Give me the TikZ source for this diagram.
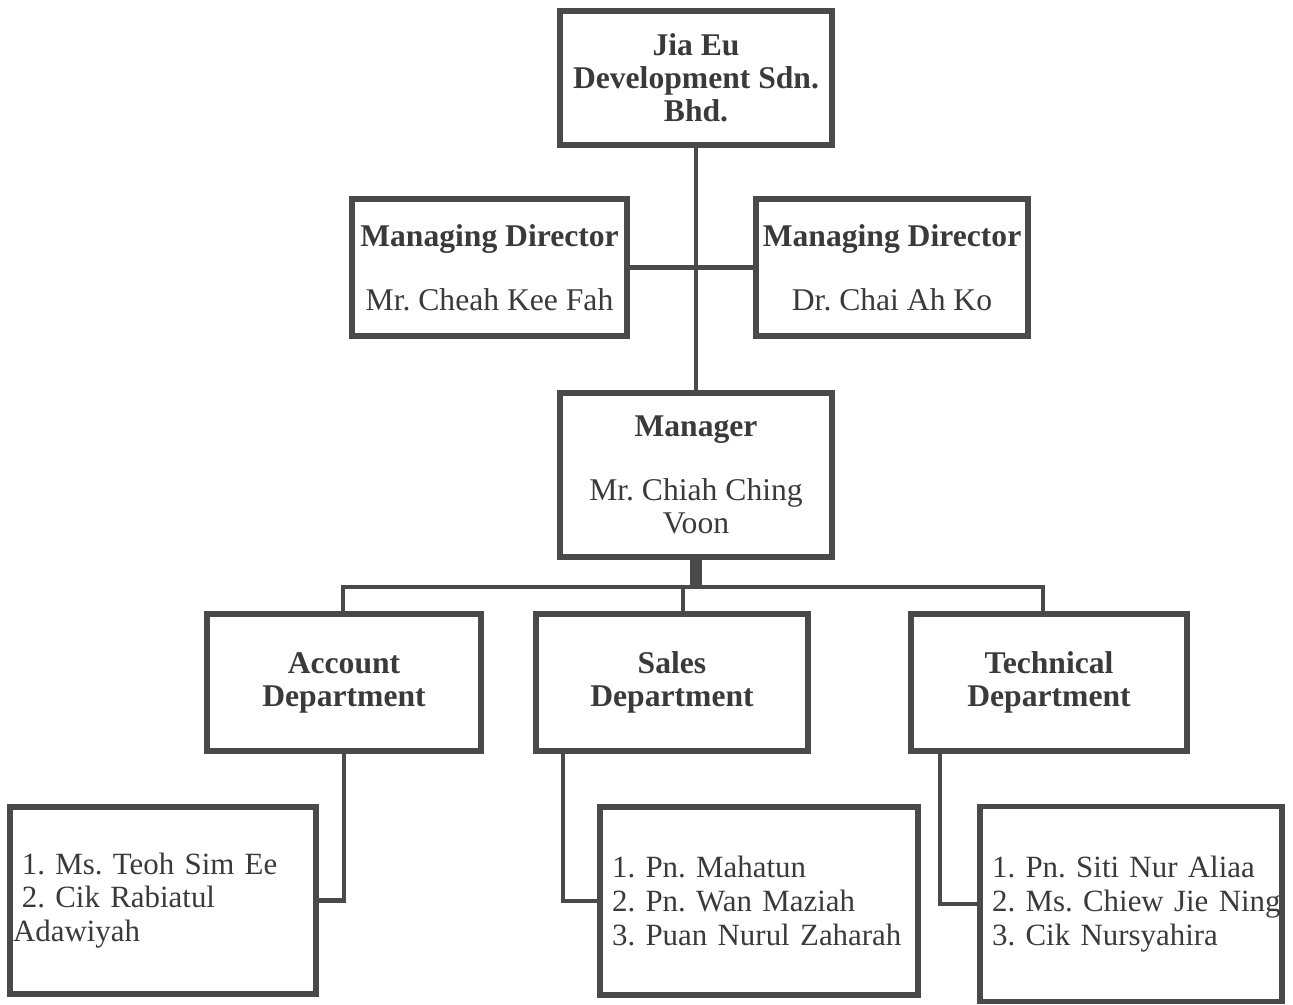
\documentclass[tikz,border=0pt]{standalone}
\usepackage{fontspec}
\setmainfont{Liberation Serif}
\definecolor{chartline}{RGB}{74,74,74}
\definecolor{charttext}{RGB}{58,58,58}

\begin{document}
\begin{tikzpicture}[x=0.02cm, y=-0.02cm,
    box/.style={draw=chartline, line width=3.2pt, rectangle, align=center, text=charttext,
      font=\fontsize{18}{18.7}\selectfont\frenchspacing, inner sep=0pt},
    listbox/.style={box, align=left, font=\fontsize{17.6}{19.2}\selectfont\frenchspacing},
    link/.style={draw=chartline, line width=2.8pt}]
    % Frame
    \useasboundingbox (0,0) rectangle (1293,1004);
    % Company
    \node[box, minimum width=5.44cm, minimum height=2.68cm] (company) at (696,78)
        {\textbf{Jia Eu}\\\textbf{Development Sdn.}\\\textbf{Bhd.}};
    % Managing directors
    \node[box, minimum width=5.5cm, minimum height=2.74cm] (mdcheah) at (489.5,267.5)
        {\textbf{Managing Director}\\[18pt]Mr. Cheah Kee Fah};
    \node[box, minimum width=5.44cm, minimum height=2.74cm] (mdchai) at (892,267.5)
        {\textbf{Managing Director}\\[18pt]Dr. Chai Ah Ko};
    % Manager
    \node[box, minimum width=5.44cm, minimum height=3.28cm] (manager) at (696,475)
        {\textbf{Manager}\\[18pt]Mr. Chiah Ching\\Voon};
    % Departments
    \node[box, minimum width=5.48cm, minimum height=2.74cm] (account) at (344,682.5)
        {\textbf{Account}\\\textbf{Department}};
    \node[box, minimum width=5.44cm, minimum height=2.74cm] (sales) at (672,682.5)
        {\textbf{Sales}\\\textbf{Department}};
    \node[box, minimum width=5.52cm, minimum height=2.74cm] (technical) at (1049,682.5)
        {\textbf{Technical}\\\textbf{Department}};
    % Staff lists
    \node[listbox, minimum width=6.12cm, minimum height=3.74cm, text width=6.0cm, inner xsep=0.06cm] (accountstaff) at (163,900.5)
        {\hspace*{5pt}\mbox{1. Ms. Teoh Sim Ee}\\\hspace*{5pt}\mbox{2. Cik Rabiatul}\\Adawiyah};
    \node[listbox, minimum width=6.36cm, minimum height=3.76cm, text width=5.88cm, inner xsep=0.24cm] (salesstaff) at (759,901)
        {\mbox{1. Pn. Mahatun}\\\mbox{2. Pn. Wan Maziah}\\\mbox{3. Puan Nurul Zaharah}};
    \node[listbox, minimum width=6.04cm, minimum height=3.9cm, text width=5.56cm, inner xsep=0.24cm] (techstaff) at (1131,904)
        {\mbox{1. Pn. Siti Nur Aliaa}\\\mbox{2. Ms. Chiew Jie Ning}\\\mbox{3. Cik Nursyahira}};
    % Links
    \draw[link] (company) -- (manager);
    \draw[link] (mdcheah) -- (mdchai);
    \coordinate (busleft) at (343,587);
    \coordinate (busmid) at (683,587);
    \coordinate (busright) at (1043,587);
    \draw[link, line width=7pt] (manager.south) -- (manager.south |- busleft);
    \draw[link] (busleft |- account.north) -- (busleft) -- (busright) -- (busright |- technical.north);
    \draw[link] (busmid) -- (busmid |- sales.north);
    \coordinate (salesdrop) at (563,751);
    \coordinate (techdrop) at (940,751);
    \draw[link] (account.south) |- (accountstaff.east);
    \draw[link] (salesdrop) |- (salesstaff.west);
    \draw[link] (techdrop) |- (techstaff.west);
\end{tikzpicture}
\end{document}
